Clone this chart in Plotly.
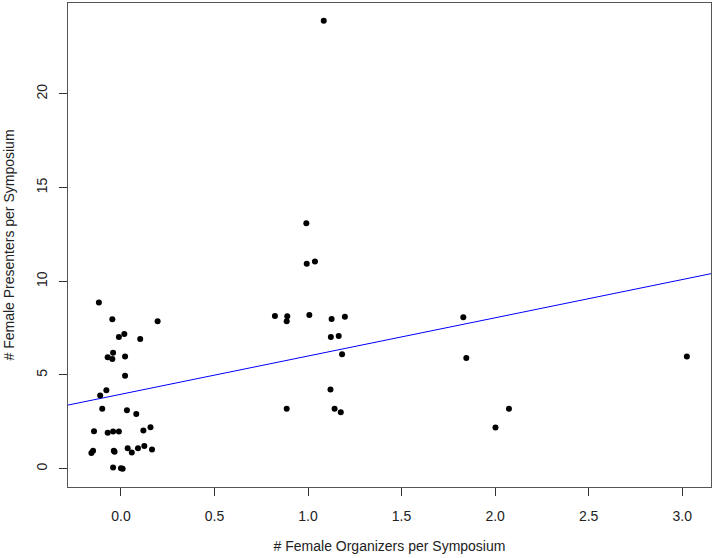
import numpy as np
import plotly.graph_objects as go

# female organizers (jittered) vs female presenters per symposium
organizers = [
    -0.118, -0.046, 0.196, -0.011, 0.018, 0.103, -0.042, -0.071, -0.046, 0.022,
    0.022, -0.078, -0.111, -0.100, 0.032, 0.082, -0.144, -0.071, -0.042, -0.011,
    0.120, 0.158, -0.158, -0.149, -0.038, -0.034, 0.036, 0.058, 0.091, 0.125,
    0.166, -0.042, 0.000, 0.009,
    0.991, 0.993, 1.037, 0.889, 0.886, 1.007, 1.126, 1.197, 1.122, 1.164,
    1.182, 1.120, 0.886, 1.142, 1.175, 0.823, 1.084,
    1.830, 1.846, 2.074, 2.002, 3.025,
]
presenters = [
    8.86, 7.97, 7.86, 7.03, 7.19, 6.92, 6.19, 5.94, 5.85, 5.99,
    4.96, 4.18, 3.90, 3.20, 3.12, 2.92, 2.00, 1.91, 1.98, 1.98,
    2.03, 2.21, 0.84, 0.96, 0.95, 0.90, 1.09, 0.86, 1.09, 1.21,
    1.02, 0.06, 0.02, -0.01,
    13.09, 10.94, 11.06, 8.13, 7.86, 8.20, 7.99, 8.11, 7.03, 7.08,
    6.10, 4.22, 3.20, 3.19, 3.01, 8.14, 23.90,
    8.08, 5.91, 3.19, 2.19, 5.98,
]

# regression line (abline of lm fit)
intercept = 3.97
slope = 2.04

x_range = [-0.283, 3.154]
y_range = [-0.98, 24.85]

fig = go.Figure()
line_x = np.array(x_range)
fig.add_trace(go.Scatter(x=line_x, y=intercept + slope * line_x, mode="lines",
                         line=dict(color="#0000FF", width=1),
                         hoverinfo="skip"))
fig.add_trace(go.Scatter(x=organizers, y=presenters, mode="markers",
                         marker=dict(size=6, color="black")))

axis_style = dict(showline=True, linecolor="#555", linewidth=1, mirror=True,
                  ticks="outside", ticklen=8, tickcolor="#333",
                  showgrid=False, zeroline=False,
                  tickfont=dict(size=14, color="#222"))
fig.update_xaxes(range=x_range, tickvals=[0, 0.5, 1, 1.5, 2, 2.5, 3],
                 ticktext=["0.0", "0.5", "1.0", "1.5", "2.0", "2.5", "3.0"],
                 ticklabelstandoff=8,
                 title=dict(text="# Female Organizers per Symposium",
                            font=dict(size=14, color="#222"), standoff=18),
                 **axis_style)
fig.update_yaxes(range=y_range, tickvals=[0, 5, 10, 15, 20], tickangle=-90,
                 ticklabelstandoff=6,
                 title=dict(text="# Female Presenters per Symposium",
                            font=dict(size=14, color="#222"), standoff=16),
                 **axis_style)
fig.update_layout(width=714, height=558, showlegend=False,
                  plot_bgcolor="white", paper_bgcolor="white",
                  font=dict(family="Liberation Sans, Arial, sans-serif"),
                  margin=dict(l=68, r=3, t=3, b=71))

fig.write_html("out.html", config={"displayModeBar": False},
               post_script="document.body.style.margin='0';")
